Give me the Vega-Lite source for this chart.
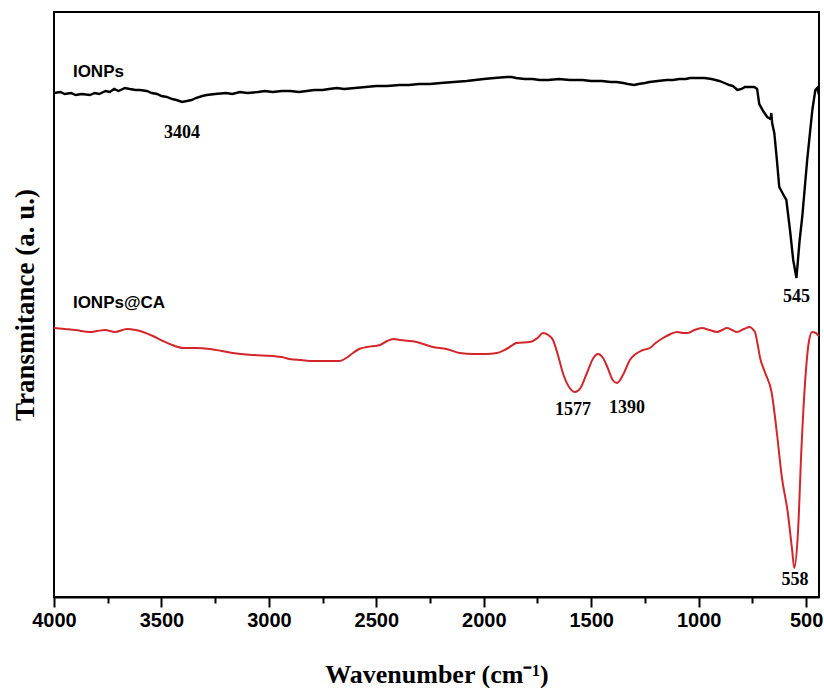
{
  "$schema": "https://vega.github.io/schema/vega-lite/v6.json",
  "width": 765,
  "height": 585,
  "autosize": "none",
  "padding": {"left": 54, "top": 12, "right": 5, "bottom": 91},
  "background": "white",
  "config": {
    "view": {"stroke": "black", "strokeWidth": 2},
    "axis": {"grid": false}
  },
  "datasets": {
    "ionps": [
      {"wn": 4000, "t": 504}, {"wn": 3970, "t": 505}, {"wn": 3950, "t": 503}, {"wn": 3920, "t": 504}, {"wn": 3900, "t": 502},
      {"wn": 3870, "t": 503}, {"wn": 3833, "t": 502}, {"wn": 3810, "t": 504}, {"wn": 3790, "t": 503}, {"wn": 3760, "t": 506},
      {"wn": 3740, "t": 505}, {"wn": 3720, "t": 508}, {"wn": 3700, "t": 506}, {"wn": 3670, "t": 509}, {"wn": 3647, "t": 508},
      {"wn": 3620, "t": 507}, {"wn": 3600, "t": 507}, {"wn": 3568, "t": 506}, {"wn": 3545, "t": 504}, {"wn": 3520, "t": 503},
      {"wn": 3500, "t": 501}, {"wn": 3475, "t": 500}, {"wn": 3450, "t": 498}, {"wn": 3430, "t": 497}, {"wn": 3404, "t": 495},
      {"wn": 3382, "t": 496}, {"wn": 3360, "t": 497}, {"wn": 3340, "t": 499}, {"wn": 3310, "t": 501}, {"wn": 3289, "t": 502},
      {"wn": 3250, "t": 503}, {"wn": 3200, "t": 504}, {"wn": 3170, "t": 503}, {"wn": 3135, "t": 505}, {"wn": 3100, "t": 504},
      {"wn": 3050, "t": 505}, {"wn": 3020, "t": 506}, {"wn": 2982, "t": 505}, {"wn": 2940, "t": 506}, {"wn": 2900, "t": 506},
      {"wn": 2860, "t": 505}, {"wn": 2824, "t": 506}, {"wn": 2790, "t": 507}, {"wn": 2750, "t": 507}, {"wn": 2720, "t": 508},
      {"wn": 2684, "t": 509}, {"wn": 2650, "t": 508}, {"wn": 2600, "t": 509}, {"wn": 2550, "t": 510}, {"wn": 2500, "t": 511},
      {"wn": 2450, "t": 511}, {"wn": 2391, "t": 512}, {"wn": 2350, "t": 512}, {"wn": 2300, "t": 513}, {"wn": 2250, "t": 513},
      {"wn": 2200, "t": 514}, {"wn": 2140, "t": 515}, {"wn": 2080, "t": 516}, {"wn": 2040, "t": 517}, {"wn": 2000, "t": 518},
      {"wn": 1950, "t": 519}, {"wn": 1894, "t": 520}, {"wn": 1870, "t": 520}, {"wn": 1850, "t": 519}, {"wn": 1810, "t": 518},
      {"wn": 1773, "t": 518}, {"wn": 1740, "t": 517}, {"wn": 1700, "t": 517}, {"wn": 1650, "t": 518}, {"wn": 1600, "t": 517},
      {"wn": 1541, "t": 517}, {"wn": 1500, "t": 516}, {"wn": 1450, "t": 516}, {"wn": 1410, "t": 515}, {"wn": 1383, "t": 515},
      {"wn": 1350, "t": 514}, {"wn": 1330, "t": 513}, {"wn": 1300, "t": 512}, {"wn": 1280, "t": 513}, {"wn": 1250, "t": 514},
      {"wn": 1229, "t": 515}, {"wn": 1190, "t": 516}, {"wn": 1150, "t": 517}, {"wn": 1120, "t": 517}, {"wn": 1090, "t": 518},
      {"wn": 1060, "t": 518}, {"wn": 1040, "t": 519}, {"wn": 1000, "t": 519}, {"wn": 973, "t": 519}, {"wn": 940, "t": 518},
      {"wn": 904, "t": 516}, {"wn": 880, "t": 514}, {"wn": 857, "t": 512}, {"wn": 840, "t": 511}, {"wn": 830, "t": 509},
      {"wn": 820, "t": 507}, {"wn": 800, "t": 508}, {"wn": 785, "t": 510}, {"wn": 774, "t": 510}, {"wn": 741, "t": 510},
      {"wn": 728, "t": 508}, {"wn": 718, "t": 493}, {"wn": 700, "t": 486}, {"wn": 681, "t": 480}, {"wn": 665, "t": 478},
      {"wn": 662, "t": 484}, {"wn": 658, "t": 474}, {"wn": 648, "t": 464}, {"wn": 636, "t": 437}, {"wn": 625, "t": 410},
      {"wn": 605, "t": 402}, {"wn": 592, "t": 397}, {"wn": 575, "t": 367}, {"wn": 560, "t": 337}, {"wn": 545, "t": 319},
      {"wn": 530, "t": 357}, {"wn": 518, "t": 380}, {"wn": 495, "t": 437}, {"wn": 471, "t": 487}, {"wn": 457, "t": 507},
      {"wn": 448, "t": 509}, {"wn": 440, "t": 502}
    ],
    "ionpsca": [
      {"wn": 4000, "t": 269}, {"wn": 3950, "t": 268}, {"wn": 3900, "t": 267}, {"wn": 3833, "t": 265}, {"wn": 3800, "t": 266},
      {"wn": 3763, "t": 267}, {"wn": 3716, "t": 265}, {"wn": 3661, "t": 268}, {"wn": 3620, "t": 267}, {"wn": 3586, "t": 265},
      {"wn": 3540, "t": 261}, {"wn": 3493, "t": 256}, {"wn": 3450, "t": 252}, {"wn": 3400, "t": 249}, {"wn": 3340, "t": 249},
      {"wn": 3275, "t": 248}, {"wn": 3220, "t": 246}, {"wn": 3168, "t": 244}, {"wn": 3075, "t": 242}, {"wn": 2982, "t": 241},
      {"wn": 2940, "t": 240}, {"wn": 2903, "t": 238}, {"wn": 2850, "t": 237}, {"wn": 2796, "t": 236}, {"wn": 2730, "t": 236},
      {"wn": 2670, "t": 236}, {"wn": 2640, "t": 239}, {"wn": 2609, "t": 244}, {"wn": 2580, "t": 248}, {"wn": 2544, "t": 250},
      {"wn": 2483, "t": 252}, {"wn": 2450, "t": 256}, {"wn": 2420, "t": 258}, {"wn": 2391, "t": 257}, {"wn": 2312, "t": 255},
      {"wn": 2238, "t": 250}, {"wn": 2173, "t": 248}, {"wn": 2111, "t": 244}, {"wn": 2050, "t": 243}, {"wn": 1990, "t": 243},
      {"wn": 1939, "t": 244}, {"wn": 1894, "t": 248}, {"wn": 1847, "t": 254}, {"wn": 1786, "t": 255}, {"wn": 1750, "t": 259},
      {"wn": 1725, "t": 264}, {"wn": 1700, "t": 262}, {"wn": 1678, "t": 257}, {"wn": 1655, "t": 242}, {"wn": 1632, "t": 224},
      {"wn": 1600, "t": 209}, {"wn": 1576, "t": 205}, {"wn": 1550, "t": 209}, {"wn": 1520, "t": 224}, {"wn": 1490, "t": 239},
      {"wn": 1469, "t": 243}, {"wn": 1445, "t": 239}, {"wn": 1423, "t": 229}, {"wn": 1400, "t": 217}, {"wn": 1380, "t": 214},
      {"wn": 1350, "t": 223}, {"wn": 1320, "t": 237}, {"wn": 1259, "t": 247}, {"wn": 1227, "t": 249}, {"wn": 1200, "t": 254},
      {"wn": 1166, "t": 259}, {"wn": 1130, "t": 263}, {"wn": 1101, "t": 265}, {"wn": 1070, "t": 264}, {"wn": 1050, "t": 264},
      {"wn": 1020, "t": 267}, {"wn": 985, "t": 269}, {"wn": 950, "t": 267}, {"wn": 915, "t": 265}, {"wn": 890, "t": 267},
      {"wn": 869, "t": 269}, {"wn": 845, "t": 267}, {"wn": 822, "t": 265}, {"wn": 790, "t": 268}, {"wn": 762, "t": 270},
      {"wn": 745, "t": 267}, {"wn": 738, "t": 265}, {"wn": 725, "t": 252}, {"wn": 715, "t": 240}, {"wn": 692, "t": 225},
      {"wn": 660, "t": 204}, {"wn": 636, "t": 164}, {"wn": 613, "t": 120}, {"wn": 585, "t": 84}, {"wn": 565, "t": 47},
      {"wn": 555, "t": 29}, {"wn": 538, "t": 64}, {"wn": 522, "t": 147}, {"wn": 505, "t": 214}, {"wn": 488, "t": 254},
      {"wn": 472, "t": 265}, {"wn": 455, "t": 264}, {"wn": 440, "t": 261}
    ],
    "peaks": [
      {"wn": 3404, "t": 464, "label": "3404"},
      {"wn": 545, "t": 300, "label": "545"},
      {"wn": 1585, "t": 187, "label": "1577"},
      {"wn": 1334, "t": 189, "label": "1390"},
      {"wn": 552, "t": 17, "label": "558"}
    ],
    "names": [
      {"wn": 3912, "t": 525, "label": "IONPs"},
      {"wn": 3912, "t": 294, "label": "IONPs@CA"}
    ],
    "minor": [
      {"wn": 3750}, {"wn": 3250}, {"wn": 2750}, {"wn": 2250}, {"wn": 1750}, {"wn": 1250}, {"wn": 750}
    ]
  },
  "resolve": {"axis": {"x": "independent"}},
  "layer": [
    {
      "data": {"name": "ionpsca"},
      "mark": {"type": "line", "color": "#d3262b", "strokeWidth": 2, "interpolate": "monotone"},
      "encoding": {
        "x": {
          "field": "wn", "type": "quantitative",
          "scale": {"domain": [4000, 440], "nice": false, "zero": false},
          "axis": {
            "orient": "bottom",
            "values": [4000, 3500, 3000, 2500, 2000, 1500, 1000, 500],
            "format": "d",
            "title": "Wavenumber (cm⁻¹)",
            "titleFont": "Liberation Serif", "titleFontSize": 26, "titleFontWeight": "bold", "titleColor": "black",
            "titlePadding": 31,
            "labelFont": "Liberation Sans", "labelFontSize": 20, "labelFontWeight": "bold", "labelColor": "black",
            "labelPadding": 3, "labelFlush": false, "labelOverlap": false,
            "tickSize": 10, "tickWidth": 2, "tickColor": "black",
            "domainColor": "black", "domainWidth": 2
          }
        },
        "y": {
          "field": "t", "type": "quantitative",
          "scale": {"domain": [0, 585], "nice": false, "zero": false},
          "axis": {
            "title": "Transmitance (a. u.)",
            "titleFont": "Liberation Serif", "titleFontSize": 27, "titleFontWeight": "bold", "titleColor": "black",
            "titlePadding": 15,
            "labels": false, "ticks": false, "domain": false
          }
        }
      }
    },
    {
      "data": {"name": "ionps"},
      "mark": {"type": "line", "color": "black", "strokeWidth": 2.4},
      "encoding": {
        "x": {"field": "wn", "type": "quantitative", "axis": null},
        "y": {"field": "t", "type": "quantitative"}
      }
    },
    {
      "data": {"name": "minor"},
      "mark": {"type": "point", "opacity": 0},
      "encoding": {
        "x": {
          "field": "wn", "type": "quantitative",
          "axis": {
            "orient": "bottom",
            "values": [3750, 3250, 2750, 2250, 1750, 1250, 750],
            "labels": false, "title": null, "domain": false,
            "tickSize": 6, "tickWidth": 2, "tickColor": "black"
          }
        }
      }
    },
    {
      "data": {"name": "peaks"},
      "mark": {"type": "text", "font": "Liberation Serif", "fontSize": 18, "fontWeight": "bold", "color": "black", "align": "center", "baseline": "middle"},
      "encoding": {
        "x": {"field": "wn", "type": "quantitative", "axis": null},
        "y": {"field": "t", "type": "quantitative"},
        "text": {"field": "label"}
      }
    },
    {
      "data": {"name": "names"},
      "mark": {"type": "text", "font": "Liberation Sans", "fontSize": 17, "fontWeight": "bold", "color": "black", "align": "left", "baseline": "middle"},
      "encoding": {
        "x": {"field": "wn", "type": "quantitative", "axis": null},
        "y": {"field": "t", "type": "quantitative"},
        "text": {"field": "label"}
      }
    }
  ]
}
